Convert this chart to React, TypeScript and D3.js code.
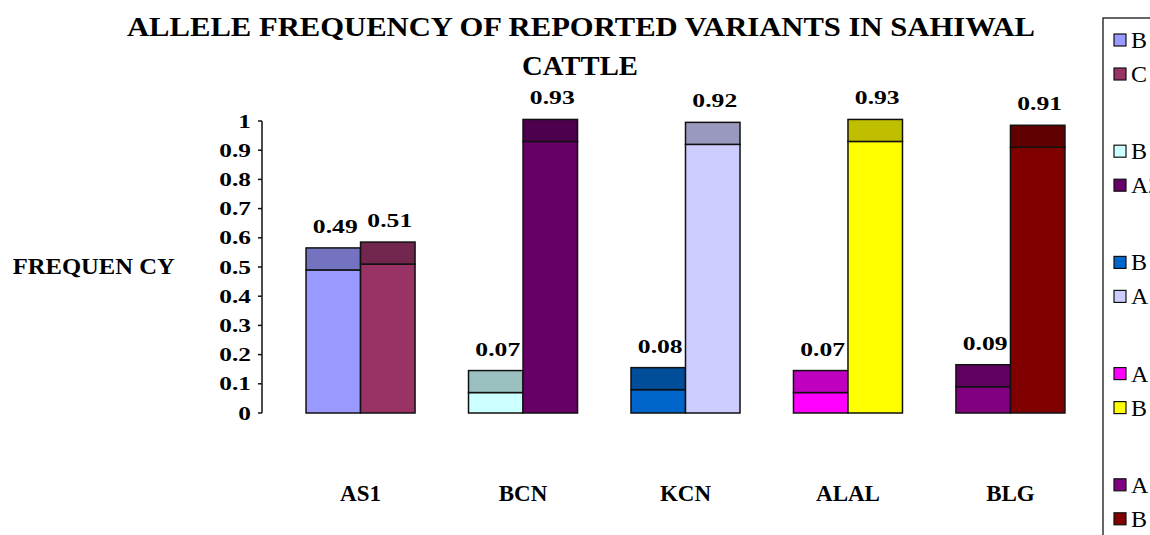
import React from "react";
import * as d3 from "d3";

const categories = ["AS1", "BCN", "KCN", "ALAL", "BLG"];
const firstAllele = ["B", "B", "B", "A", "A"];
const secondAllele = ["C", "A2", "A", "B", "B"];
const firstFreq = [0.49, 0.07, 0.08, 0.07, 0.09];
const secondFreq = [0.51, 0.93, 0.92, 0.93, 0.91];
const firstColors = ["#9999FF", "#CCFFFF", "#0066CC", "#FF00FF", "#800080"];
const secondColors = ["#993366", "#660066", "#CCCCFF", "#FFFF00", "#800000"];
const yTicks = [0, 0.1, 0.2, 0.3, 0.4, 0.5, 0.6, 0.7, 0.8, 0.9, 1];
const titleLine1 = "ALLELE FREQUENCY OF REPORTED VARIANTS IN SAHIWAL";
const titleLine2 = "CATTLE";
const yTitle = "FREQUEN CY";

const W = 1150;
const H = 535;
const FONT = "Liberation Serif, Times New Roman, DejaVu Serif, serif";
const CAP = 22;

function shade(c: string, k = 0.75) {
  const r = d3.rgb(c);
  return d3.rgb(r.r * k, r.g * k, r.b * k).formatHex();
}

export default function App() {
  const y = d3.scaleLinear().domain([0, 1]).range([413, 121]);
  const x = d3
    .scaleBand<string>()
    .domain(categories)
    .range([262, 1109])
    .paddingInner(0.329)
    .paddingOuter(0.271);
  const sub = d3.scaleBand<number>().domain([0, 1]).range([0, x.bandwidth()]);

  const bars = categories.flatMap((c, i) => [
    { cat: c, k: 0, v: firstFreq[i], color: firstColors[i] },
    { cat: c, k: 1, v: secondFreq[i], color: secondColors[i] },
  ]);

  const legendItems = categories.flatMap((c, i) => [
    { label: firstAllele[i], color: firstColors[i], idx: i, k: 0 },
    { label: secondAllele[i], color: secondColors[i], idx: i, k: 1 },
  ]);

  const tstyle = { fontFamily: FONT } as React.CSSProperties;

  return (
    <svg
      width={W}
      height={H}
      style={{ position: "absolute", left: 0, top: 0, background: "#fff", overflow: "hidden", fontFamily: FONT }}
    >
      <rect x={0} y={0} width={W} height={H} fill="#fff" />
      {/* Title */}
      <text x={581} y={36} textAnchor="middle" fontSize={27} fontWeight="bold" style={tstyle}
        textLength={908} lengthAdjust="spacingAndGlyphs" fill="#000">{titleLine1}</text>
      <text x={580} y={75} textAnchor="middle" fontSize={27} fontWeight="bold" style={tstyle}
        textLength={116} lengthAdjust="spacingAndGlyphs" fill="#000">{titleLine2}</text>

      {/* Y title */}
      <text x={12.7} y={274} fontSize={24} fontWeight="bold" style={tstyle}
        textLength={162} lengthAdjust="spacingAndGlyphs" fill="#000">{yTitle}</text>

      {/* Y axis */}
      <line x1={262} x2={262} y1={y(0)} y2={y(1)} stroke="#111" strokeWidth={1.5} />
      {yTicks.map((t) => (
        <g key={t}>
          <line x1={258} x2={262} y1={y(t)} y2={y(t)} stroke="#111" strokeWidth={1.5} />
          <text
            transform={`translate(251,${y(t) + 6.5}) scale(1.3,1)`}
            textAnchor="end" fontSize={19.5} fontWeight="bold" fill="#000" style={tstyle}
          >{String(t)}</text>
        </g>
      ))}

      {/* Bars */}
      {bars.map((b) => {
        const bx = (x(b.cat) as number) + (sub(b.k) as number);
        const bw = sub.bandwidth();
        const top = y(b.v);
        return (
          <g key={b.cat + b.k}>
            <rect x={bx} y={top} width={bw} height={y(0) - top} fill={b.color}
              stroke="#111" strokeWidth={1.5} />
            <rect x={bx} y={top - CAP} width={bw} height={CAP} fill={shade(b.color)}
              stroke="#111" strokeWidth={1.5} />
            <text
              transform={`translate(${bx + bw / 2 + 2},${top - CAP - 15}) scale(1.35,1)`}
              textAnchor="middle" fontSize={19} fontWeight="bold" fill="#000" style={tstyle}
            >{b.v.toFixed(2)}</text>
          </g>
        );
      })}

      {/* Category labels */}
      {categories.map((c) => (
        <text key={c} x={(x(c) as number) + x.bandwidth() / 2} y={501} style={tstyle}
          textAnchor="middle" fontSize={23} fontWeight="bold" fill="#000">{c}</text>
      ))}

      {/* Legend */}
      <rect x={1103} y={18} width={120} height={560} fill="#fff" stroke="#333" strokeWidth={1.5} />
      {legendItems.map((l) => {
        const ly = 40 + l.idx * 111.2 + l.k * 34;
        return (
          <g key={l.idx + "-" + l.k}>
            <rect x={1114} y={ly - 6} width={12} height={12} fill={l.color}
              stroke="#111" strokeWidth={1.2} />
            <text x={1131} y={ly + 8} fontSize={24} fill="#000" style={tstyle}>{l.label}</text>
          </g>
        );
      })}
    </svg>
  );
}
